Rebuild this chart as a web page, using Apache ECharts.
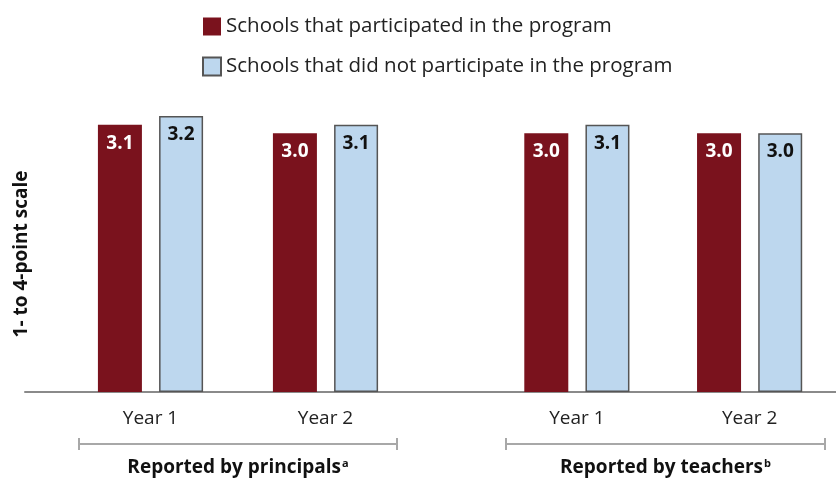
<!DOCTYPE html>
<html><head><meta charset="utf-8">
<script src="https://cdn.jsdelivr.net/npm/echarts@6/dist/echarts.min.js"></script>
<style>html,body{margin:0;padding:0;background:#fff}#c{width:836px;height:479px}</style>
</head><body><div id="c"></div>
<script>
const categories = ['Year 1', 'Year 2'];
const seriesNames = ['Schools that participated in the program', 'Schools that did not participate in the program'];
const principalsParticipated = [3.1, 3.0];
const principalsNot = [3.2, 3.1];
const teachersParticipated = [3.0, 3.0];
const teachersNot = [3.1, 3.0];
const sectionLabels = ['Reported by principals', 'Reported by teachers'];
const sectionSup = ['a', 'b'];
const yAxisName = '1- to 4-point scale';

const FONT = 'Open Sans';
const RED = '#7A121D';
const BLUE = '#BDD7EE';

const chart = echarts.init(document.getElementById('c'));

function mkSeries(name, data, idx, isRed) {
  return {
    type: 'bar', name: name, data: data, xAxisIndex: idx, yAxisIndex: idx,
    barWidth: 44, barGap: '39%',
    itemStyle: isRed ? { color: RED } : { color: BLUE, borderColor: '#555', borderWidth: 1.5 },
    label: {
      show: true, position: 'insideTop', distance: 9,
      formatter: p => p.value.toFixed(1),
      color: isRed ? '#fff' : '#111', fontFamily: FONT, fontWeight: 'bold', fontSize: 19
    }
  };
}

const yBase = { type: 'value', min: 0, max: 4, show: false };
const xBase = (show) => ({
  type: 'category', data: categories,
  axisLine: { show: false }, axisTick: { show: false },
  axisLabel: { show: show, color: '#222', fontFamily: FONT, fontSize: 19, margin: 17 }
});

chart.setOption({
  animation: false,
  legend: {
    orient: 'vertical', left: 197, top: 11, itemWidth: 18, itemHeight: 18, itemGap: 19,
    icon: 'rect',
    data: seriesNames,
    textStyle: { color: '#222', fontFamily: FONT, fontSize: 20.5 }
  },
  grid: [
    { left: 63, width: 350, top: 47, bottom: 87 },
    { left: 490.5, width: 350, top: 47, bottom: 87 },
    { left: 25, right: 0, top: 47, bottom: 87 }
  ],
  xAxis: [
    Object.assign(xBase(true), { gridIndex: 0 }),
    Object.assign(xBase(true), { gridIndex: 1 }),
    { gridIndex: 2, type: 'category', data: [''], axisTick: { show: false }, axisLabel: { show: false },
      axisLine: { show: true, lineStyle: { color: '#8a8a8a', width: 2 } } }
  ],
  yAxis: [
    Object.assign({}, yBase, { gridIndex: 0 }),
    Object.assign({}, yBase, { gridIndex: 1 }),
    Object.assign({}, yBase, { gridIndex: 2 })
  ],
  series: [
    mkSeries(seriesNames[0], principalsParticipated, 0, true),
    mkSeries(seriesNames[1], principalsNot, 0, false),
    mkSeries(seriesNames[0], teachersParticipated, 1, true),
    mkSeries(seriesNames[1], teachersNot, 1, false)
  ]
});

function bracket(x1, x2, y, label, sup) {
  const c = '#a8a8a8';
  return [
    { type: 'line', shape: { x1: x1, y1: y, x2: x2, y2: y }, style: { stroke: c, lineWidth: 2 } },
    { type: 'line', shape: { x1: x1, y1: y - 6, x2: x1, y2: y + 6 }, style: { stroke: c, lineWidth: 2 } },
    { type: 'line', shape: { x1: x2, y1: y - 6, x2: x2, y2: y + 6 }, style: { stroke: c, lineWidth: 2 } },
    { type: 'text', x: (x1 + x2) / 2, y: y + 24,
      style: { text: '{m|' + label + '}{s|' + sup + '}', align: 'center', verticalAlign: 'middle',
        rich: {
          m: { fontFamily: FONT, fontWeight: 'bold', fontSize: 19, fill: '#111' },
          s: { fontFamily: FONT, fontWeight: 'bold', fontSize: 11, fill: '#111', verticalAlign: 'top', padding: [0, 0, 9, 1] }
        } } }
  ];
}
chart.setOption({ graphic: [].concat(
  bracket(79, 397, 444, sectionLabels[0], sectionSup[0]),
  bracket(506, 825, 444, sectionLabels[1], sectionSup[1]),
  [{ type: 'text', x: 22, y: 254, rotation: Math.PI / 2,
     style: { text: yAxisName, align: 'center', verticalAlign: 'middle',
       fontFamily: FONT, fontWeight: 'bold', fontSize: 19, fill: '#111' } }]
) });
</script></body></html>
